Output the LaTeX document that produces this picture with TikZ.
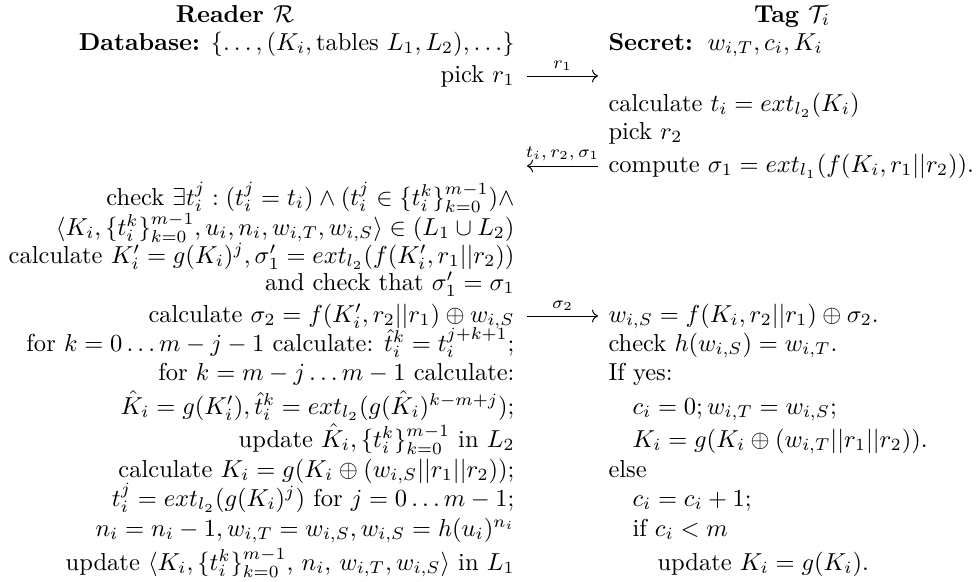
\documentclass[tikz,border=0pt]{standalone}
\usepackage{amsmath,amssymb}
\usepackage{tikz}
\usetikzlibrary{arrows.meta}

\begin{document}
\begin{tikzpicture}[
    x=0.408pt, y=-0.408pt,
    lft/.style={anchor=base east, inner sep=0pt},
    rgt/.style={anchor=base west, inner sep=0pt},
    head/.style={anchor=base, inner sep=0pt, font=\bfseries},
    msg/.style={-{To}, line width=0.4pt},
    msglabel/.style={above, inner sep=2pt, font=\scriptsize},
]
  \useasboundingbox (0,0) rectangle (977,581);

  % Headings
  \node[head] (rd) at (235,22) {Reader $\mathcal{R}$};
  \node[head] (tg) at (792,22) {Tag $\mathcal{T}_i$};

  % Reader (left column)
  \node[lft] (l1) at (515,50) {\textbf{Database:} $\{\ldots,(K_i,\text{tables } L_1,L_2),\ldots\}$};
  \node[lft] (l2) at (515,82) {pick $r_1$};
  \node[lft] (l3) at (515,205) {check $\exists t_i^j:(t_i^j=t_i)\wedge(t_i^j\in\{t_i^k\}_{k=0}^{m-1})\wedge$};
  \node[lft] (l4) at (515,235) {$\langle K_i,\{t_i^k\}_{k=0}^{m-1},u_i,n_i,w_{i,T},w_{i,S}\rangle\in(L_1\cup L_2)$};
  \node[lft] (l5) at (515,263) {calculate $K_i'=g(K_i)^j,\sigma_1'=ext_{l_2}(f(K_i',r_1||r_2))$};
  \node[lft] (l6) at (515,290) {and check that $\sigma_1'=\sigma_1$};
  \node[lft] (l7) at (515,322) {calculate $\sigma_2=f(K_i',r_2||r_1)\oplus w_{i,S}$};
  \node[lft] (l8) at (515,351) {for $k=0\ldots m-j-1$ calculate: $\hat{t}_i^k=t_i^{j+k+1}$;};
  \node[lft] (l9) at (515,380) {for $k=m-j\ldots m-1$ calculate:};
  \node[lft] (l10) at (515,414) {$\hat{K}_i=g(K_i'),\hat{t}_i^k=ext_{l_2}(g(\hat{K}_i)^{k-m+j})$;};
  \node[lft] (l11) at (515,447) {update $\hat{K}_i,\{t_i^k\}_{k=0}^{m-1}$ in $L_2$};
  \node[lft] (l12) at (515,477) {calculate $K_i=g(K_i\oplus(w_{i,S}||r_1||r_2))$;};
  \node[lft] (l13) at (515,506) {$t_i^j=ext_{l_2}(g(K_i)^j)$ for $j=0\ldots m-1$;};
  \node[lft] (l14) at (515,536) {$n_i=n_i-1,w_{i,T}=w_{i,S},w_{i,S}=h(u_i)^{n_i}$};
  \node[lft] (l15) at (515,570) {update $\langle K_i,\{t_i^k\}_{k=0}^{m-1}$, $n_i$, $w_{i,T},w_{i,S}\rangle$ in $L_1$};

  % Tag (right column)
  \node[rgt] (r1) at (608,50) {\textbf{Secret:}\hspace{6pt}$w_{i,T},c_i,K_i$};
  \node[rgt] (r2) at (608,111) {calculate $t_i=ext_{l_2}(K_i)$};
  \node[rgt] (r3) at (608,139) {pick $r_2$};
  \node[rgt] (r4) at (608,172) {compute $\sigma_1=ext_{l_1}(f(K_i,r_1||r_2))$.};
  \node[rgt] (r5) at (608,322) {$w_{i,S}=f(K_i,r_2||r_1)\oplus\sigma_2$.};
  \node[rgt] (r6) at (608,351) {check $h(w_{i,S})=w_{i,T}$.};
  \node[rgt] (r7) at (608,380) {If yes:};
  \node[rgt] (r8) at (632,414) {$c_i=0;w_{i,T}=w_{i,S}$;};
  \node[rgt] (r9) at (632,447) {$K_i=g(K_i\oplus(w_{i,T}||r_1||r_2))$.};
  \node[rgt] (r10) at (608,477) {else};
  \node[rgt] (r11) at (632,506) {$c_i=c_i+1$;};
  \node[rgt] (r12) at (632,536) {if $c_i<m$};
  \node[rgt] (r13) at (657,570) {update $K_i=g(K_i)$.};

  % Messages
  \coordinate (m1a) at (527,76);
  \coordinate (m1b) at (598,76);
  \coordinate (m2a) at (598,166);
  \coordinate (m2b) at (527,166);
  \coordinate (m3a) at (527,316);
  \coordinate (m3b) at (598,316);
  \draw[msg] (m1a) -- node[msglabel] {$r_1$} (m1b);
  \draw[msg] (m2a) -- node[msglabel] {$t_i,r_2,\sigma_1$} (m2b);
  \draw[msg] (m3a) -- node[msglabel] {$\sigma_2$} (m3b);
\end{tikzpicture}
\end{document}
